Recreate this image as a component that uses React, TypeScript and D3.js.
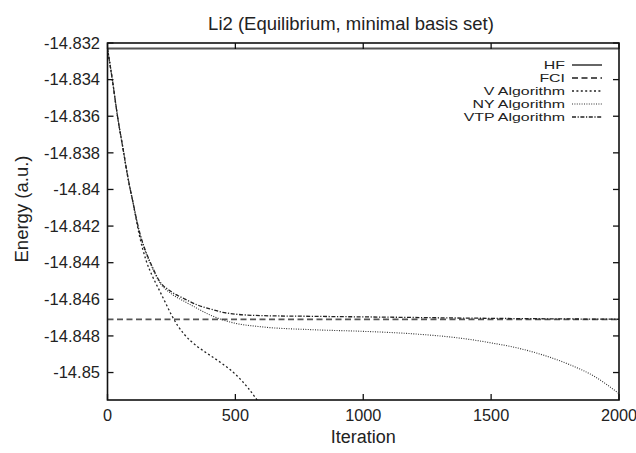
import React, { useEffect, useRef } from "react";
import * as d3 from "d3";

// values
const HF = -14.8323;
const FCI = -14.8471;

const vIter = [0, 20, 40, 60, 80, 100, 125, 150, 175, 200, 225, 250, 275, 300, 350, 400, 450, 500, 550, 590];
const vEnergy = [-14.8323, -14.83411, -14.83608, -14.83772, -14.83936, -14.84073, -14.84253, -14.84384, -14.84472, -14.84543,
    -14.84614, -14.84685, -14.84745, -14.84791, -14.84856, -14.84905, -14.84953, -14.85009, -14.85085, -14.8516];

const nyIter = [0, 20, 40, 60, 80, 100, 125, 150, 175, 200, 250, 300, 350, 400, 450, 500, 600, 800, 1000, 1200, 1400, 1500, 1600, 1700, 1800, 1900, 2000];
const nyEnergy = [-14.8323, -14.83411, -14.83608, -14.83772, -14.83936, -14.84073, -14.84237, -14.84346, -14.84428, -14.84499,
    -14.8457, -14.84611, -14.84649, -14.84685, -14.84712, -14.84731, -14.8475, -14.84766, -14.84775, -14.84789,
    -14.84816, -14.84838, -14.84865, -14.84903, -14.84953, -14.85018, -14.85115];

const vtpIter = [0, 20, 40, 60, 80, 100, 125, 150, 175, 200, 250, 300, 350, 400, 450, 500, 600, 800, 1000, 1500, 2000];
const vtpEnergy = [-14.8323, -14.83411, -14.83608, -14.83772, -14.83936, -14.84073, -14.84231, -14.8434, -14.84422, -14.84493,
    -14.84559, -14.84597, -14.8463, -14.84652, -14.84671, -14.84681, -14.84689, -14.84693, -14.84696, -14.84704, -14.84709];

const xTicks = [0, 500, 1000, 1500, 2000];
const yTicks = [-14.832, -14.834, -14.836, -14.838, -14.84, -14.842, -14.844, -14.846, -14.848, -14.85];

const legendLabels = ["HF", "FCI", "V Algorithm", "NY Algorithm", "VTP Algorithm"];

export default function App() {
    const ref = useRef<SVGSVGElement>(null);

    useEffect(() => {
        const width = 636;
        const height = 453;
        const left = 107.5;
        const right = 619;
        const top = 43;
        const bottom = 400;
        const font = "'Liberation Sans', Arial, Helvetica, sans-serif";

        const svg = d3.select(ref.current);
        svg.selectAll("*").remove();
        svg.attr("width", width).attr("height", height);

        svg.append("rect").attr("width", width).attr("height", height).attr("fill", "#fff");

        const x = d3.scaleLinear().domain([0, 2000]).range([left, right]);
        const y = d3.scaleLinear().domain([-14.8515, -14.832]).range([bottom, top]);

        svg.append("clipPath").attr("id", "plot")
            .append("rect")
            .attr("x", left).attr("y", top)
            .attr("width", right - left).attr("height", bottom - top);

        const g = svg.append("g").attr("clip-path", "url(#plot)");

        const line = d3.line<[number, number]>()
            .x(d => x(d[0]))
            .y(d => y(d[1]))
            .curve(d3.curveMonotoneX);

        const series = [
            { label: "HF", pts: [[0, HF], [2000, HF]] as [number, number][], color: "#555", width: 1.8, dash: "" },
            { label: "FCI", pts: [[0, FCI], [2000, FCI]] as [number, number][], color: "#555", width: 1.8, dash: "6,3.5" },
            { label: "V Algorithm", pts: vIter.map((t, i) => [t, vEnergy[i]]) as [number, number][], color: "#222", width: 1.3, dash: "2,2.4" },
            { label: "NY Algorithm", pts: nyIter.map((t, i) => [t, nyEnergy[i]]) as [number, number][], color: "#333", width: 1.1, dash: "1,1.4" },
            { label: "VTP Algorithm", pts: vtpIter.map((t, i) => [t, vtpEnergy[i]]) as [number, number][], color: "#222", width: 1.3, dash: "4,1.6,1.2,1.6" },
        ];

        series.forEach(s => {
            g.append("path")
                .attr("d", line(s.pts))
                .attr("fill", "none")
                .attr("stroke", s.color)
                .attr("stroke-width", s.width)
                .attr("stroke-dasharray", s.dash || null);
        });

        // ticks, mirrored on all four sides, pointing inward
        const tickLen = 6;
        const axes = svg.append("g").attr("stroke", "#111").attr("stroke-width", 1.3);
        xTicks.forEach(t => {
            axes.append("line").attr("x1", x(t)).attr("x2", x(t)).attr("y1", bottom).attr("y2", bottom - tickLen);
            axes.append("line").attr("x1", x(t)).attr("x2", x(t)).attr("y1", top).attr("y2", top + tickLen);
        });
        yTicks.forEach(t => {
            axes.append("line").attr("x1", left).attr("x2", left + tickLen).attr("y1", y(t)).attr("y2", y(t));
            axes.append("line").attr("x1", right).attr("x2", right - tickLen).attr("y1", y(t)).attr("y2", y(t));
        });

        svg.append("rect")
            .attr("x", left).attr("y", top)
            .attr("width", right - left).attr("height", bottom - top)
            .attr("fill", "none").attr("stroke", "#111").attr("stroke-width", 1.6);

        const labels = svg.append("g").attr("font-family", font).attr("fill", "#222");

        labels.selectAll("text.x")
            .data(xTicks)
            .enter()
            .append("text")
            .attr("x", d => x(d))
            .attr("y", 421)
            .attr("text-anchor", "middle")
            .attr("font-size", "16.3px")
            .text(d => String(d));

        labels.selectAll("text.y")
            .data(yTicks)
            .enter()
            .append("text")
            .attr("x", 100)
            .attr("y", d => y(d) + 5.8)
            .attr("text-anchor", "end")
            .attr("font-size", "16.5px")
            .text(d => String(+d.toFixed(3)));

        labels.append("text")
            .attr("x", 351).attr("y", 29.5)
            .attr("text-anchor", "middle")
            .attr("font-size", "18.5px")
            .text("Li2 (Equilibrium, minimal basis set)");

        labels.append("text")
            .attr("x", (left + right) / 2).attr("y", 442.5)
            .attr("text-anchor", "middle")
            .attr("font-size", "18px")
            .text("Iteration");

        labels.append("text")
            .attr("transform", "translate(27.5,209) rotate(-90)")
            .attr("text-anchor", "middle")
            .attr("font-size", "18.5px")
            .text("Energy (a.u.)");

        // legend: the reference text is wide and short, so squash it
        const legend = svg.append("g");
        legendLabels.forEach((name, i) => {
            const s = series[i];
            const cy = 65 + i * 13;
            legend.append("text")
                .attr("transform", `translate(565,${cy + 4.1}) scale(1.42,1)`)
                .attr("text-anchor", "end")
                .attr("font-family", font)
                .attr("font-size", "11.2px")
                .attr("fill", "#222")
                .text(name);
            legend.append("line")
                .attr("x1", 572).attr("x2", 602)
                .attr("y1", cy).attr("y2", cy)
                .attr("stroke", s.color)
                .attr("stroke-width", s.width)
                .attr("stroke-dasharray", s.dash || null);
        });
    }, []);

    return (
        <svg ref={ref} style={{ position: "absolute", left: 0, top: 0 }} />
    );
}
